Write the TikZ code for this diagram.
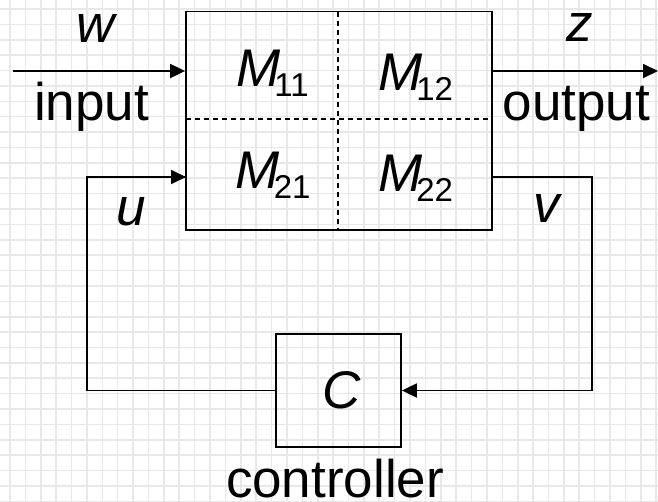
\documentclass[tikz,border=0pt]{standalone}
\usepackage{fontspec}
\setmainfont{Liberation Sans}
\usetikzlibrary{arrows.meta}
\begin{document}
\begin{tikzpicture}[x=1pt,y=-1pt,
  gridline/.style={line width=1.6pt,draw=black!9},
  blk/.style={draw=black,line width=1.8pt,inner sep=0pt,fill=none},
  wire/.style={line width=1.8pt,-{Triangle[length=15pt,width=14pt]}},
  plainwire/.style={line width=1.8pt},
  divider/.style={line width=1.3pt,dash pattern=on 5pt off 4pt},
  lbl/.style={inner sep=0pt,anchor=base,font=\fontsize{53}{53}\selectfont},
  mlbl/.style={inner sep=0pt,anchor=base west,font=\fontsize{53}{53}\selectfont\itshape},
  ilbl/.style={inner sep=0pt,anchor=base,font=\fontsize{53}{53}\selectfont\itshape}]
\useasboundingbox (0,0) rectangle (658,501);
\fill[white] (0,0) rectangle (658,501);
% grid
\foreach \i in {0,...,42} {\draw[gridline] ({10+15.385*\i},0) -- ({10+15.385*\i},501);}
\foreach \j in {0,...,32} {\draw[gridline] (0,{9+15.385*\j}) -- (658,{9+15.385*\j});}
% main block
\node[blk,minimum width=306pt,minimum height=218.5pt] (M) at (339,120.75) {};
\coordinate (dtop) at (338,11.5);
\coordinate (dbot) at (338,230);
\coordinate (dleft) at (186,119);
\coordinate (dright) at (492,119);
\draw[divider] (dtop) -- (dbot);
\draw[divider] (dleft) -- (dright);
% controller block
\node[blk,minimum width=125pt,minimum height=113pt] (C) at (338.5,390.5) {};
% connectors
\coordinate (win) at (13,71);
\coordinate (zout) at (658,71);
\coordinate (vport) at (492,177);
\coordinate (vcorner) at (592,390.5);
\coordinate (ucorner) at (87,390.5);
\coordinate (uport) at (186,177);
\draw[wire] (win) -- (win -| M.west);
\draw[wire] (zout -| M.east) -- (zout);
\draw[wire] (vport) -| (vcorner) -- (C.east);
\draw[plainwire] (C.west) -- (ucorner) |- (uport |- 0,177);
\draw[wire] (ucorner |- uport) -- (uport);
% labels
\node[ilbl] (wl) at (96,42) {w};
\node[ilbl] (zl) at (580,41) {z};
\node[ilbl] (ul) at (131,225) {u};
\node[ilbl] (vl) at (547,222) {v};
\node[ilbl] (cl) at (342,408) {C};
\node[lbl] (inl) at (91.5,120.7) {input};
\node[lbl] (outl) at (576.5,120.5) {output};
\node[lbl] (ctl) at (335,497) {controller};
\node[mlbl] (m11) at (236,86.7) {M\kern-6pt\raisebox{-10pt}{\fontsize{33}{33}\selectfont\upshape 11}};
\node[mlbl] (m12) at (378,90) {M\kern-6pt\raisebox{-10pt}{\fontsize{33}{33}\selectfont\upshape 12}};
\node[mlbl] (m21) at (235.5,188.3) {M\kern-6pt\raisebox{-10pt}{\fontsize{33}{33}\selectfont\upshape 21}};
\node[mlbl] (m22) at (378,191.7) {M\kern-6pt\raisebox{-10pt}{\fontsize{33}{33}\selectfont\upshape 22}};
\end{tikzpicture}
\end{document}
